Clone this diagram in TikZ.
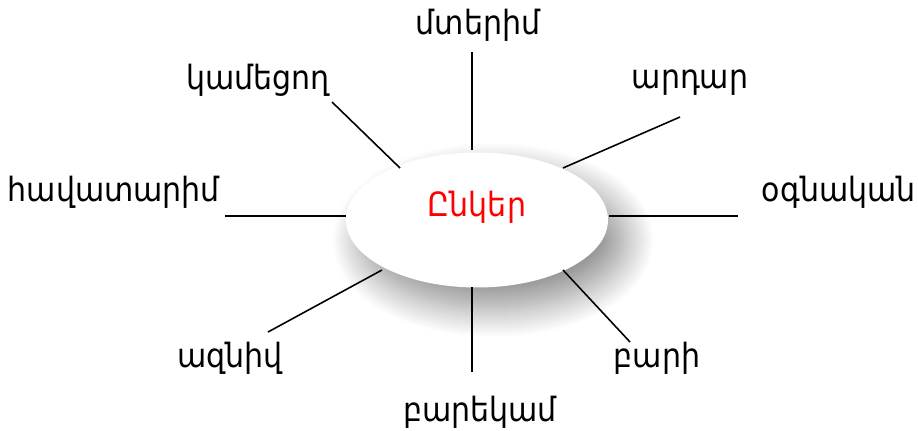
\documentclass[tikz,border=0pt]{standalone}
\usepackage{fontspec}
\setmainfont{DejaVu Sans Condensed}
\usetikzlibrary{shapes.geometric,shadows.blur}

\begin{document}
\begin{tikzpicture}[
    x=0.02cm, y=-0.02cm,
    font=\fontsize{19}{22}\selectfont,
    hub/.style={
        ellipse, fill=white, inner sep=0pt,
        minimum width=5.24cm, minimum height=2.70cm,
        blur shadow={shadow xshift=0.32cm, shadow yshift=-0.40cm,
                     shadow blur radius=0.6cm, shadow blur steps=30,
                     shadow opacity=45}
    },
    word/.style={inner sep=0pt},
    spoke/.style={line width=0.9pt, black}
]
\useasboundingbox[clip] (0,0) rectangle (918,430);

\node[hub] (friend) at (477,220) {};
\node[word, text=red] (center) at (477,207) {Ընկեր};

% labels
\node[word] (close)    at (478,25)  {մտերիմ};
\node[word] (willing)  at (258,80)  {կամեցող};
\node[word] (just)     at (690,83)  {արդար};
\node[word] (loyal)    at (114,192) {հավատարիմ};
\node[word, anchor=east] (helper) at (916,192) {օգնական};
\node[word] (honest)   at (230,358) {ազնիվ};
\node[word] (kind)     at (657,358) {բարի};
\node[word] (pal)      at (480,412) {բարեկամ};

% spoke ends
\coordinate (c1) at (472,52);  \coordinate (e1) at (472,150);
\coordinate (c2) at (332,102); \coordinate (e2) at (400,168);
\coordinate (c3) at (680,117); \coordinate (e3) at (563,168);
\coordinate (c4) at (225,216); \coordinate (e4) at (346,216);
\coordinate (c5) at (738,216); \coordinate (e5) at (609,216);
\coordinate (c6) at (268,332); \coordinate (e6) at (382,270);
\coordinate (c7) at (630,342); \coordinate (e7) at (563,270);
\coordinate (c8) at (472,372); \coordinate (e8) at (472,287);

\foreach \i in {1,...,8}
    \draw[spoke] (c\i) -- (e\i);
\end{tikzpicture}
\end{document}
